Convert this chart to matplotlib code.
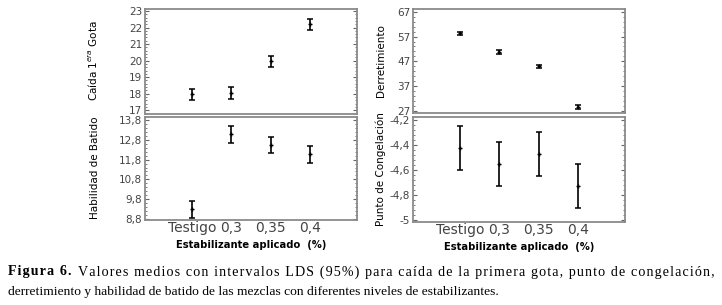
import matplotlib.pyplot as plt
from matplotlib.ticker import AutoMinorLocator

# data
niveles = ["Testigo", "0,3", "0,35", "0,4"]
pos = [1, 2, 3, 4]

caida_media = [17.95, 18.02, 19.96, 22.2]
caida_err = [0.32, 0.36, 0.32, 0.32]

batido_media = [9.29, 13.08, 12.54, 12.07]
batido_err = [0.44, 0.42, 0.41, 0.44]

derret_media = [58.3, 50.7, 45.0, 28.7]
derret_err = [0.7, 0.7, 0.7, 0.7]

congel_media = [-4.425, -4.55, -4.47, -4.727]
congel_err = [0.178, 0.175, 0.175, 0.178]

W, H = 722, 305
fig = plt.figure(figsize=(W / 100, H / 100), dpi=100)
fig.patch.set_facecolor("white")


def box(x0, y0, x1, y1):
    return [x0 / W, 1 - y1 / H, (x1 - x0) / W, (y1 - y0) / H]


def panel(rect, media, err, yticks, ylabels, ylim, ylabel, show_x):
    ax = fig.add_axes(box(*rect))
    ax.errorbar(pos, media, yerr=err, fmt="+", color="black", ms=3,
                elinewidth=1.2, capsize=2.5, capthick=1.1)
    ax.set_xlim(-0.2, 5.2)
    ax.set_ylim(*ylim)
    ax.set_yticks(yticks)
    ax.set_yticklabels(ylabels, fontsize=7.5, color="#444444")
    ax.yaxis.set_minor_locator(AutoMinorLocator(5))
    ax.tick_params(axis="y", which="both", direction="in", right=True,
                   length=3, color="#666666", pad=2)
    ax.tick_params(axis="y", which="minor", length=1.5)
    for s in ax.spines.values():
        s.set_color("#8a8a8a")
        s.set_linewidth(1.3)
    if show_x:
        ax.set_xticks(pos)
        ax.set_xticklabels(niveles, fontsize=10, color="#444444")
        ax.tick_params(axis="x", length=0, pad=1)
        ax.set_xlabel("Estabilizante aplicado  (%)", fontsize=7.2,
                      fontweight="bold", labelpad=3)
    else:
        ax.set_xticks([])
    ax.set_ylabel(ylabel, fontsize=7.5, family="DejaVu Sans Condensed")
    return ax


ax1 = panel((145, 9, 357, 114), caida_media, caida_err,
            [17, 18, 19, 20, 21, 22, 23],
            ["17", "18", "19", "20", "21", "22", "23"],
            (16.77, 23.12), "Caída 1$^{era}$ Gota", False)
ax2 = panel((145, 117, 357, 220), batido_media, batido_err,
            [8.8, 9.8, 10.8, 11.8, 12.8, 13.8],
            ["8,8", "9,8", "10,8", "11,8", "12,8", "13,8"],
            (8.75, 13.95), "Habilidad de Batido", True)
ax3 = panel((413, 9, 625, 113), derret_media, derret_err,
            [27, 37, 47, 57, 67],
            ["27", "37", "47", "57", "67"],
            (26.2, 68.1), "Derretimiento", False)
ax4 = panel((413, 117, 625, 222), congel_media, congel_err,
            [-5, -4.8, -4.6, -4.4, -4.2],
            ["-5", "-4,8", "-4,6", "-4,4", "-4,2"],
            (-5.016, -4.175), "Punto de Congelación", True)

for ax, x, yc in [(ax1, 100, 61), (ax2, 100, 168), (ax3, 386, 61), (ax4, 386, 169)]:
    ax.yaxis.set_label_coords(x / W, 1 - yc / H, transform=fig.transFigure)

# caption; the first line is letter-spaced (hair spaces) to fill the width
cap_font = dict(family="Liberation Serif", va="baseline")
cap1 = "Valores medios con intervalos LDS (95%) para caída de la primera gota, punto de congelación,"
cap2 = "derretimiento y habilidad de batido de las mezclas con diferentes niveles de estabilizantes."
fig.text(8 / W, 1 - 294.5 / H, cap2, fontsize=9.7, **cap_font)

HS = "\u200a"


def spaced(s):
    return (" " + HS * 2).join(HS.join(w) for w in s.split(" "))


y1 = 1 - 275.5 / H
t_bold = fig.text(8 / W, y1, spaced("Figura 6."), fontsize=10, fontweight="bold", **cap_font)
t_reg = fig.text(715 / W, y1, spaced(cap1), fontsize=10, ha="right", **cap_font)
r = fig.canvas.get_renderer()
wb = t_bold.get_window_extent(r).width
wr = t_reg.get_window_extent(r).width
gap = 6.0
fs = 10 * (707 - gap) / (wb + wr)
t_bold.set_fontsize(fs)
t_reg.set_fontsize(fs)

fig.savefig("out.png", dpi=100)
